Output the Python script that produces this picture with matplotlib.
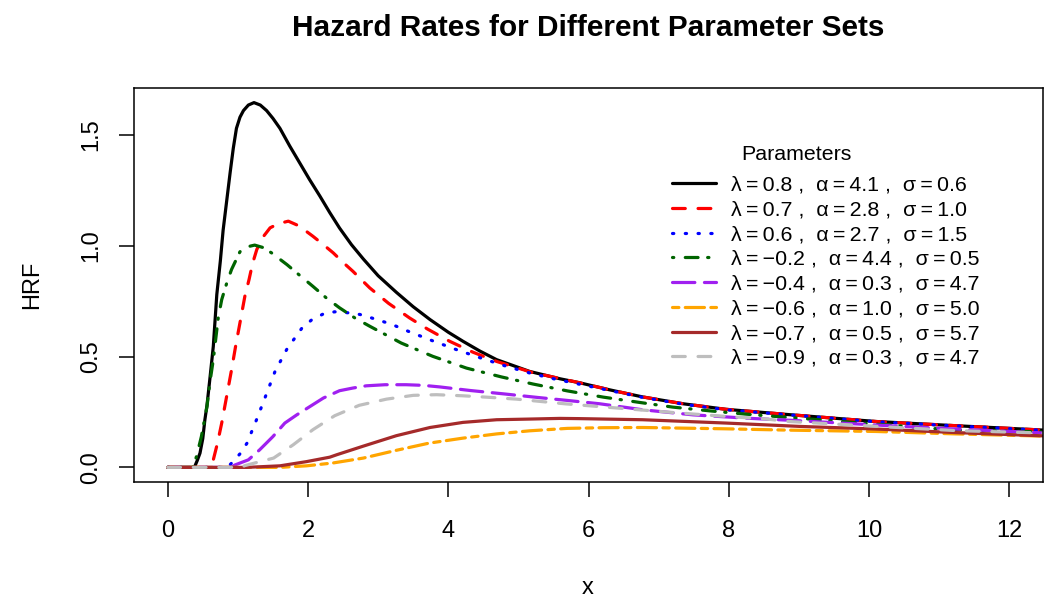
import matplotlib.pyplot as plt
import numpy as np

plt.rcParams['font.family'] = ['Liberation Sans', 'DejaVu Sans']

# values
x1 = [0, 0.38, 0.42, 0.46, 0.50, 0.53, 0.56, 0.60, 0.65, 0.70, 0.75, 0.79, 0.84, 0.89,
      0.935, 0.98, 1.03, 1.08, 1.15, 1.23, 1.32, 1.41, 1.50, 1.60, 1.74, 1.88, 2.02,
      2.17, 2.31, 2.45, 2.62, 2.79, 3.0, 3.26, 3.5, 3.74, 4.0, 4.21, 4.45, 4.69, 5.16,
      5.59, 5.87, 6.3, 6.77, 7.35, 7.96, 8.86, 10.1, 11.24, 12.5]
y1 = [0, 0, 0.03, 0.064, 0.13, 0.215, 0.28, 0.396, 0.546, 0.78, 0.93, 1.07, 1.2, 1.33,
      1.44, 1.53, 1.58, 1.61, 1.635, 1.646, 1.635, 1.61, 1.575, 1.53, 1.45, 1.375, 1.30,
      1.224, 1.15, 1.08, 1.005, 0.94, 0.865, 0.79, 0.725, 0.667, 0.61, 0.569, 0.525,
      0.486, 0.433, 0.400, 0.382, 0.35, 0.318, 0.287, 0.262, 0.238, 0.207, 0.188, 0.168]

x2 = [0, 0.60, 0.65, 0.71, 0.77, 0.84, 0.91, 0.97, 1.03, 1.10, 1.16, 1.21, 1.27, 1.36,
      1.46, 1.58, 1.72, 1.87, 2.07, 2.2, 2.36, 2.5, 2.64, 2.88, 3.15, 3.45, 3.7, 4.02,
      4.35, 4.69, 5.2, 5.87, 6.3, 6.77, 7.35, 7.96, 8.86, 10.1, 11.24, 12.5]
y2 = [0, 0, 0.034, 0.11, 0.2, 0.32, 0.44, 0.55, 0.652, 0.772, 0.848, 0.92, 0.983, 1.04,
      1.081, 1.10, 1.111, 1.09, 1.043, 1.01, 0.968, 0.925, 0.885, 0.81, 0.74, 0.674,
      0.625, 0.569, 0.52, 0.478, 0.428, 0.382, 0.35, 0.318, 0.287, 0.262, 0.238, 0.207,
      0.188, 0.168]

x3 = [0, 0.85, 0.91, 0.97, 1.03, 1.13, 1.27, 1.40, 1.53, 1.70, 1.91, 2.05, 2.21, 2.38,
      2.56, 2.74, 2.9, 3.10, 3.25, 3.43, 3.77, 4.12, 4.46, 4.80, 5.16, 5.50, 5.86, 6.3,
      6.77, 7.35, 7.96, 8.86, 10.1, 11.24, 12.5]
y3 = [0, 0, 0.019, 0.04, 0.061, 0.109, 0.218, 0.325, 0.433, 0.534, 0.627, 0.665, 0.691,
      0.702, 0.698, 0.69, 0.675, 0.655, 0.638, 0.614, 0.572, 0.531, 0.494, 0.459, 0.426,
      0.40, 0.376, 0.347, 0.316, 0.285, 0.26, 0.237, 0.206, 0.187, 0.167]

x4 = [0, 0.36, 0.41, 0.48, 0.56, 0.60, 0.65, 0.72, 0.77, 0.84, 0.91, 1.03, 1.13, 1.24,
      1.36, 1.48, 1.70, 1.88, 2.07, 2.26, 2.45, 2.67, 2.88, 3.33, 3.78, 4.26, 4.76, 5.21,
      5.70, 6.21, 6.73, 7.20, 7.73, 8.25, 8.91, 11.14, 12.5]
y4 = [0, 0, 0.049, 0.139, 0.275, 0.38, 0.486, 0.674, 0.757, 0.83, 0.893, 0.973, 0.995,
      1.003, 0.992, 0.968, 0.915, 0.867, 0.817, 0.765, 0.72, 0.674, 0.637, 0.561, 0.501,
      0.448, 0.408, 0.376, 0.345, 0.317, 0.293, 0.272, 0.255, 0.24, 0.224, 0.17, 0.16]

x5 = [0, 0.90, 0.96, 1.15, 1.31, 1.50, 1.67, 1.84, 2.03, 2.22, 2.45, 2.64, 2.83, 3.1,
      3.40, 3.65, 3.88, 4.31, 4.78, 5.26, 5.70, 6.16, 6.77, 7.49, 8.25, 8.91, 10.29,
      11.24, 12.5]
y5 = [0, 0, 0.011, 0.034, 0.079, 0.139, 0.2, 0.237, 0.275, 0.313, 0.346, 0.358, 0.368,
      0.373, 0.373, 0.37, 0.363, 0.347, 0.332, 0.316, 0.302, 0.287, 0.26, 0.237, 0.222,
      0.212, 0.188, 0.173, 0.155]

x6 = [0, 1.60, 1.98, 2.36, 2.79, 3.26, 3.72, 4.21, 4.69, 5.16, 5.70, 6.2, 6.77, 7.96,
      8.86, 10.1, 11.24, 12.5]
y6 = [0, 0, 0.007, 0.02, 0.042, 0.077, 0.109, 0.132, 0.151, 0.165, 0.176, 0.179, 0.18,
      0.174, 0.168, 0.162, 0.151, 0.141]

x7 = [0, 1.13, 1.60, 1.98, 2.31, 2.41, 2.79, 3.26, 3.74, 4.21, 4.69, 5.16, 5.59, 5.87,
      6.77, 7.96, 9.0, 10.1, 11.24, 12.5]
y7 = [0, 0, 0.007, 0.026, 0.046, 0.057, 0.096, 0.143, 0.18, 0.203, 0.215, 0.218, 0.221,
      0.22, 0.215, 0.2, 0.185, 0.173, 0.157, 0.142]

x8 = [0, 1.05, 1.10, 1.51, 1.79, 2.07, 2.38, 2.73, 3.12, 3.50, 3.83, 4.21, 4.59, 4.97,
      5.30, 5.66, 6.40, 7.11, 7.82, 8.54, 8.86, 10.29, 11.24, 12.5]
y8 = [0, 0, 0.008, 0.042, 0.102, 0.17, 0.233, 0.28, 0.308, 0.325, 0.328, 0.323, 0.316,
      0.308, 0.298, 0.287, 0.268, 0.25, 0.233, 0.218, 0.207, 0.182, 0.166, 0.155]

labels = ['λ\u2009=\u20090.8 ,  α\u2009=\u20094.1 ,  σ\u2009=\u20090.6',
          'λ\u2009=\u20090.7 ,  α\u2009=\u20092.8 ,  σ\u2009=\u20091.0',
          'λ\u2009=\u20090.6 ,  α\u2009=\u20092.7 ,  σ\u2009=\u20091.5',
          'λ\u2009=\u2009\u22120.2 ,  α\u2009=\u20094.4 ,  σ\u2009=\u20090.5',
          'λ\u2009=\u2009\u22120.4 ,  α\u2009=\u20090.3 ,  σ\u2009=\u20094.7',
          'λ\u2009=\u2009\u22120.6 ,  α\u2009=\u20091.0 ,  σ\u2009=\u20095.0',
          'λ\u2009=\u2009\u22120.7 ,  α\u2009=\u20090.5 ,  σ\u2009=\u20095.7',
          'λ\u2009=\u2009\u22120.9 ,  α\u2009=\u20090.3 ,  σ\u2009=\u20094.7']

xs = [x1, x2, x3, x4, x5, x6, x7, x8]
ys = [y1, y2, y3, y4, y5, y6, y7, y8]
colors = ['black', '#FF0000', '#0000FF', '#006400', '#A020F0', '#FFA500', '#A52A2A', '#BEBEBE']
# R lty 1..6 then 1, 2
dashes = [None, (4, 4), (0.4, 3.6), (0.4, 3.6, 4, 3), (7, 3), (2, 2, 6, 2), None, (4, 4)]

fig = plt.figure(figsize=(10.53, 6.01), dpi=100)
ax = fig.add_axes([0.1273, 0.198, 0.9905 - 0.1273, 0.8536 - 0.198])

for xx, yy, c, d, lab in zip(xs, ys, colors, dashes, labels):
    line, = ax.plot(xx, yy, color=c, lw=2.3, label=lab,
                    solid_capstyle='round', dash_capstyle='round', solid_joinstyle='round')
    if d is not None:
        line.set_dashes(d)

ax.set_xlim(-0.48, 12.48)
ax.set_ylim(-0.066, 1.712)
ax.set_xticks([0, 2, 4, 6, 8, 10, 12])
ax.set_yticks([0.0, 0.5, 1.0, 1.5])
ax.set_yticklabels(['0.0', '0.5', '1.0', '1.5'], rotation=90, va='center')
ax.tick_params(direction='out', length=11, width=1.1, labelsize=17)
ax.tick_params(axis='x', pad=16)
ax.tick_params(axis='y', pad=12)
for s in ax.spines.values():
    s.set_linewidth(1.1)

fig.text(0.5584, 1 - 588 / 601, 'x', fontsize=17, ha='center', va='center')
fig.text(32 / 1053, 1 - 285 / 601, 'HRF', fontsize=17, ha='center', va='center', rotation=90)
fig.text(0.5584, 1 - 28 / 601, 'Hazard Rates for Different Parameter Sets', fontsize=21.4,
         fontweight='bold', ha='center', va='center')

ax.text(0.729, 0.830, 'Parameters', transform=ax.transAxes, fontsize=15.4,
        ha='center', va='center')
leg = ax.legend(loc='upper left', bbox_to_anchor=(0.592, 0.778), frameon=False,
                fontsize=15.4, handlelength=2.06, handletextpad=0.7, labelspacing=0.27,
                borderpad=0, borderaxespad=0)

fig.savefig('out.png', dpi=100)
